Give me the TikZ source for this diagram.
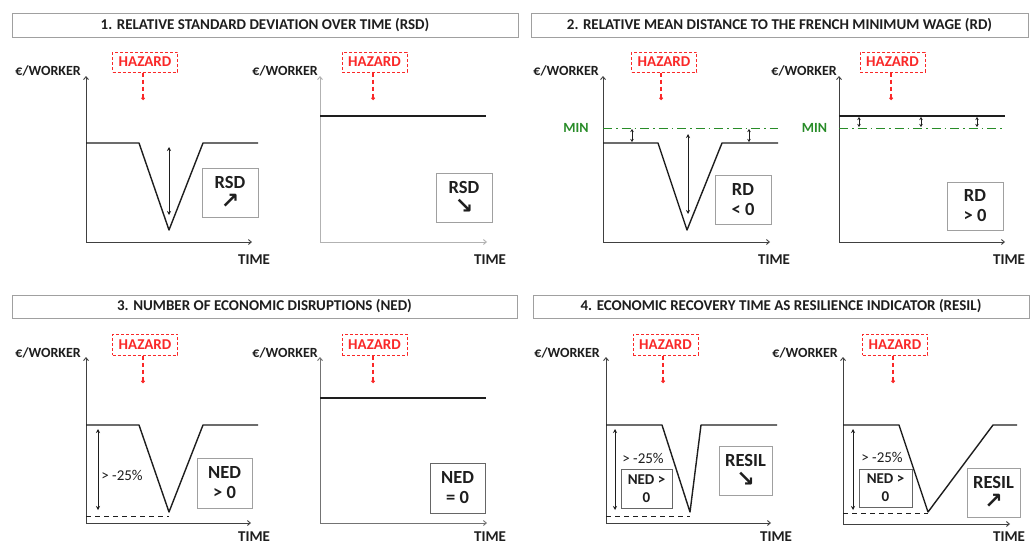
\documentclass[tikz,border=0pt]{standalone}
\usepackage{fontspec}
\setmainfont{Carlito}
\newfontfamily\arrowfont{DejaVu Sans}
\usetikzlibrary{arrows.meta}
\definecolor{hazred}{RGB}{250,40,40}
\definecolor{mingreen}{RGB}{40,140,40}
\definecolor{boxgray}{RGB}{160,160,160}
\definecolor{ink}{RGB}{30,30,30}
\newcommand{\arr}[1]{{\arrowfont\bfseries\fontsize{22}{20}\selectfont #1}}
\tikzset{
  titlebox/.style={draw=boxgray, line width=0.9pt, fill=white, inner sep=0pt, text=ink,
    font=\bfseries\fontsize{15}{17}\selectfont},
  ylab/.style={anchor=east, inner sep=0pt, text=ink, font=\bfseries\fontsize{14}{16}\selectfont},
  tlab/.style={inner sep=0pt, text=ink, font=\bfseries\fontsize{15}{17}\selectfont},
  hazard/.style={draw=hazred, dashed, dash pattern=on 3pt off 2pt, line width=1pt, text=hazred,
    inner sep=0pt, minimum width=65pt, minimum height=20pt, font=\bfseries\fontsize{15}{17}\selectfont},
  hazline/.style={hazred, line width=1.2pt, dash pattern=on 4pt off 3pt, -{Circle[length=3.5pt]}},
  axisdark/.style={line width=0.9pt, black!75, {Straight Barb[length=3pt,width=5pt]}-{Straight Barb[length=3pt,width=5pt]}},
  axislight/.style={line width=0.9pt, black!30, {Straight Barb[length=3pt,width=5pt]}-{Straight Barb[length=3pt,width=5pt]}},
  axismid/.style={line width=0.9pt, black!55, {Straight Barb[length=3pt,width=5pt]}-{Straight Barb[length=3pt,width=5pt]}},
  curve/.style={line width=1.4pt, ink, line join=round},
  dbl/.style={line width=1pt, ink, {Stealth[length=4pt,width=4pt]}-{Stealth[length=4pt,width=4pt]}},
  tiny/.style={line width=0.9pt, ink, {Stealth[length=3pt,width=3.5pt]}-{Stealth[length=3pt,width=3.5pt]}},
  indbox/.style={draw=boxgray, line width=0.9pt, fill=white, align=center, inner sep=0pt, text=ink,
    font=\bfseries\fontsize{18.5}{20}\selectfont},
  nedbox/.style={draw=black!60, line width=0.9pt, fill=white, align=center, inner sep=0pt, text=ink,
    font=\bfseries\fontsize{15}{18}\selectfont},
  minlab/.style={inner sep=0pt, text=mingreen, font=\bfseries\fontsize{14}{16}\selectfont},
  minline/.style={mingreen, line width=1pt, dash pattern=on 9pt off 4pt on 1.5pt off 4pt},
  pct/.style={inner sep=0pt, text=ink, font=\fontsize{15}{17}\selectfont},
  floor/.style={ink, line width=1pt, dash pattern=on 5pt off 4pt}
}
\begin{document}
\begin{tikzpicture}[x=1pt,y=-1pt]
\fill[white] (0,0) rectangle (1030,546);
\clip (0,0) rectangle (1030,546);

% ---------- titles ----------
\node[titlebox, minimum width=506pt, minimum height=24pt] (t1) at (265,25) {1. RELATIVE STANDARD DEVIATION OVER TIME (RSD)};
\node[titlebox, minimum width=497pt, minimum height=24pt] (t2) at (779.5,25) {2. RELATIVE MEAN DISTANCE TO THE FRENCH MINIMUM WAGE (RD)};
\node[titlebox, minimum width=505pt, minimum height=23pt] (t3) at (264.5,306.5) {3. NUMBER OF ECONOMIC DISRUPTIONS (NED)};
\node[titlebox, minimum width=496pt, minimum height=23pt] (t4) at (781,306.5) {4. ECONOMIC RECOVERY TIME AS RESILIENCE INDICATOR (RESIL)};

% ---------- graph A ----------
\draw[axisdark] (86,76) -- (86,242) -- (252,242);
\node[ylab] (yA) at (81,71) {€/WORKER};
\node[tlab] (tA) at (254,260) {TIME};
\node[hazard] (hA) at (145,62) {HAZARD};
\coordinate (dA) at (143,100);
\draw[hazline] (hA.south -| dA) -- (dA);
\draw[curve] (86,143) -- (139,143) -- (169,230) -- (203,143) -- (258,143);
\draw[dbl] (169,147) -- (169,215);
\node[indbox, minimum width=56pt, minimum height=49pt] (bA) at (230,192.5) {RSD\\\arr{↗}};

% ---------- graph B ----------
\draw[axislight] (320,76) -- (320,242) -- (487,242);
\node[ylab] (yB) at (318,71) {€/WORKER};
\node[tlab] (tB) at (490,260) {TIME};
\node[hazard] (hB) at (374.5,62) {HAZARD};
\coordinate (dB) at (373,100);
\draw[hazline] (hB.south -| dB) -- (dB);
\draw[curve] (320,116) -- (486,116);
\node[indbox, minimum width=56pt, minimum height=49pt] (bB) at (464,197.5) {RSD\\\arr{↘}};

% ---------- graph C ----------
\draw[axisdark] (603,76) -- (603,242) -- (770,242);
\node[ylab] (yC) at (599,71) {€/WORKER};
\node[tlab] (tC) at (774,260) {TIME};
\node[hazard] (hC) at (664,62) {HAZARD};
\coordinate (dC) at (661,100);
\draw[hazline] (hC.south -| dC) -- (dC);
\node[minlab] (mC) at (576,128) {MIN};
\draw[minline] (603,128) -- (778,128);
\draw[curve] (603,143) -- (658,143) -- (687,230) -- (722,143) -- (778,143);
\draw[tiny] (632,129) -- (632,142);
\draw[tiny] (749,129) -- (749,142);
\draw[dbl] (688,134) -- (688,214);
\node[indbox, minimum width=56pt, minimum height=49pt] (bC) at (743,199.5) {RD\\< 0};

% ---------- graph D ----------
\draw[axisdark] (839,76) -- (839,242) -- (1005,242);
\node[ylab] (yD) at (837,71) {€/WORKER};
\node[tlab] (tD) at (1009,260) {TIME};
\node[hazard] (hD) at (892.5,62) {HAZARD};
\coordinate (dD) at (891,100);
\draw[hazline] (hD.south -| dD) -- (dD);
\node[minlab] (mD) at (814.5,128) {MIN};
\draw[minline] (839,128) -- (1005,128);
\draw[curve] (839,116) -- (1005,116);
\draw[tiny] (859,117) -- (859,127);
\draw[tiny] (921,117) -- (921,127);
\draw[tiny] (977,117) -- (977,127);
\node[indbox, minimum width=56pt, minimum height=48pt] (bD) at (975,206) {RD\\> 0};

% ---------- graph E ----------
\draw[axisdark] (86,357) -- (86,523) -- (251,523);
\node[ylab] (yE) at (81,353) {€/WORKER};
\node[tlab] (tE) at (254,537) {TIME};
\node[hazard, minimum height=21pt] (hE) at (145,344.5) {HAZARD};
\coordinate (dE) at (143,383);
\draw[hazline] (hE.south -| dE) -- (dE);
\draw[curve] (86,425) -- (139,425) -- (169,512) -- (203,425) -- (258,425);
\draw[floor] (86,516) -- (169,516);
\draw[dbl] (98,429) -- (98,510);
\node[pct] (pE) at (122,475) {> -25\%};
\node[indbox, minimum width=55pt, minimum height=50pt] (bE) at (224.5,483) {NED\\> 0};

% ---------- graph F ----------
\draw[axismid] (320,357) -- (320,523) -- (487,523);
\node[ylab] (yF) at (318,353) {€/WORKER};
\node[tlab] (tF) at (490,537) {TIME};
\node[hazard, minimum height=21pt] (hF) at (374.5,344.5) {HAZARD};
\coordinate (dF) at (373,383);
\draw[hazline] (hF.south -| dF) -- (dF);
\draw[curve] (320,398) -- (486,398);
\node[indbox, draw=black!60, minimum width=55pt, minimum height=50pt] (bF) at (457.5,488) {NED\\= 0};

% ---------- graph G ----------
\draw[axisdark] (606,357) -- (606,523) -- (771,523);
\node[ylab] (yG) at (600,353) {€/WORKER};
\node[tlab] (tG) at (776,537) {TIME};
\node[hazard, minimum height=21pt] (hG) at (665.5,344.5) {HAZARD};
\coordinate (dG) at (663,383);
\draw[hazline] (hG.south -| dG) -- (dG);
\draw[curve] (606,425) -- (662,425) -- (690,512) -- (701,425) -- (777,425);
\draw[floor] (606,516) -- (690,516);
\draw[dbl] (615,429) -- (615,510);
\node[pct] (pG) at (643,458) {> -25\%};
\node[nedbox, minimum width=51pt, minimum height=39pt] (nG) at (646.5,488.5) {NED >\\0};
\node[indbox, minimum width=53pt, minimum height=49pt] (bG) at (745.5,470.5) {RESIL\\\arr{↘}};

% ---------- graph H ----------
\draw[axisdark] (843,357) -- (843,524) -- (1010,524);
\node[ylab] (yH) at (838,353) {€/WORKER};
\node[tlab] (tH) at (1009,537) {TIME};
\node[hazard, minimum height=21pt] (hH) at (895,344.5) {HAZARD};
\coordinate (dH) at (893,383);
\draw[hazline] (hH.south -| dH) -- (dH);
\draw[curve] (843,425) -- (899,425) -- (928,512) -- (993,425) -- (1017,425);
\draw[floor] (843,513) -- (928,513);
\draw[dbl] (853,429) -- (853,510);
\node[pct] (pH) at (882,457) {> -25\%};
\node[nedbox, minimum width=53pt, minimum height=38pt] (nH) at (885.5,488) {NED >\\0};
\node[indbox, minimum width=53pt, minimum height=49pt] (bH) at (993.5,492.5) {RESIL\\\arr{↗}};
\end{tikzpicture}
\end{document}
